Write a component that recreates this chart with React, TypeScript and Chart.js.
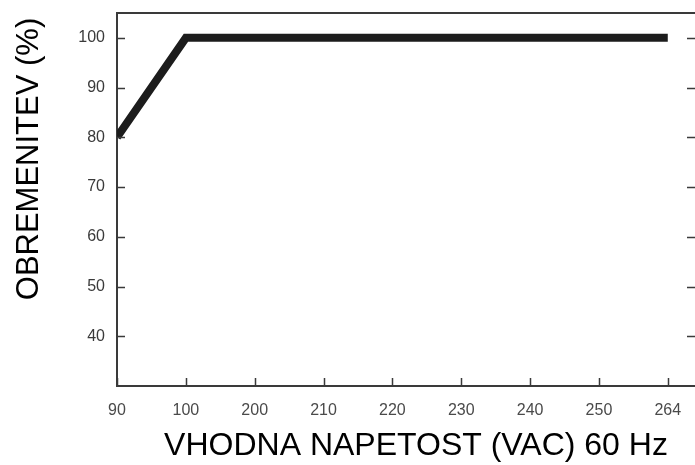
import React, { useEffect, useRef } from "react";
import { Chart, registerables } from "chart.js";

Chart.register(...registerables);

const xLabels = ["90", "100", "200", "210", "220", "230", "240", "250", "264"];
const loadPercent = [80, 100, 100, 100, 100, 100, 100, 100, 100];
const yTickValues = [40, 50, 60, 70, 80, 90, 100];
const yMin = 30;
const yMax = 105;
const xTitle = "VHODNA NAPETOST (VAC) 60 Hz";
const yTitle = "OBREMENITEV (%)";

const FONT = "'Liberation Sans', Arial, sans-serif";

const frameTicks = {
  id: "frameTicks",
  afterDraw(chart: any) {
    const { ctx, chartArea } = chart;
    const xs = chart.scales.x;
    const ys = chart.scales.y;
    ctx.save();
    ctx.strokeStyle = "#3a3a3a";
    ctx.lineWidth = 2;
    ctx.beginPath();
    ctx.moveTo(chartArea.left, chartArea.top);
    ctx.lineTo(chartArea.right + 2, chartArea.top);
    ctx.stroke();
    ctx.lineWidth = 1.5;
    ctx.beginPath();
    yTickValues.forEach((v) => {
      const y = Math.round(ys.getPixelForValue(v)) + 0.5;
      ctx.moveTo(chartArea.left, y);
      ctx.lineTo(chartArea.left + 8, y);
      ctx.moveTo(chartArea.right - 9, y);
      ctx.lineTo(chartArea.right, y);
    });
    xLabels.forEach((_, i) => {
      const x = Math.round(xs.getPixelForValue(i)) + 0.5;
      ctx.moveTo(x, chartArea.bottom);
      ctx.lineTo(x, chartArea.bottom - 8);
    });
    ctx.stroke();

    // axis titles
    ctx.fillStyle = "#000";
    ctx.font = `32px ${FONT}`;
    ctx.textAlign = "center";
    ctx.textBaseline = "alphabetic";
    ctx.fillText(xTitle, 416, 455);
    ctx.font = `31px ${FONT}`;
    ctx.translate(38, 159);
    ctx.rotate(-Math.PI / 2);
    ctx.fillText(yTitle, 0, 0);
    ctx.restore();
  },
};

export default function App() {
  const ref = useRef<HTMLCanvasElement | null>(null);
  useEffect(() => {
    document.body.style.margin = "0";
    const canvas = ref.current;
    if (!canvas) return;
    const chart = new Chart(canvas, {
      type: "line",
      data: {
        datasets: [
          {
            data: loadPercent.map((v, i) => ({ x: i, y: v })),
            borderColor: "#1c1c1c",
            borderWidth: 8,
            pointRadius: 0,
            tension: 0,
            borderCapStyle: "butt",
            borderJoinStyle: "miter",
            fill: false,
          },
        ],
      },
      options: {
        animation: false,
        responsive: false,
        devicePixelRatio: 1,
        layout: { padding: { top: 13, right: 4, left: 0, bottom: 0 } },
        plugins: { legend: { display: false }, tooltip: { enabled: false } },
        scales: {
          x: {
            type: "linear",
            min: 0,
            max: 8.41,
            grid: { display: false, drawTicks: false },
            border: { display: true, color: "#3a3a3a", width: 2 },
            afterBuildTicks: (scale: any) => {
              scale.ticks = xLabels.map((_, i) => ({ value: i }));
            },
            afterFit: (scale: any) => {
              scale.height = 79;
              scale.paddingLeft = 0;
              scale.paddingRight = 0;
            },
            ticks: {
              padding: 15,
              color: "#4a4a4a",
              font: { family: FONT, size: 16 },
              maxRotation: 0,
              autoSkip: false,
              callback: (v: any) => xLabels[Math.round(Number(v))] ?? "",
            },
          },
          y: {
            type: "linear",
            min: yMin,
            max: yMax,
            grid: { display: false, drawTicks: false },
            border: { display: true, color: "#3a3a3a", width: 2 },
            afterBuildTicks: (scale: any) => {
              scale.ticks = yTickValues.map((v) => ({ value: v }));
            },
            afterFit: (scale: any) => {
              scale.width = 117;
              scale.paddingTop = 0;
              scale.paddingBottom = 0;
            },
            ticks: {
              padding: 12,
              color: "#3a3a3a",
              font: { family: FONT, size: 16 },
            },
          },
        },
      },
      plugins: [frameTicks],
    } as any);
    return () => chart.destroy();
  }, []);
  return (
    <div style={{ width: 695, height: 465, overflow: "hidden", background: "#fff" }}>
      <canvas ref={ref} width={700} height={465} style={{ display: "block" }} />
    </div>
  );
}
